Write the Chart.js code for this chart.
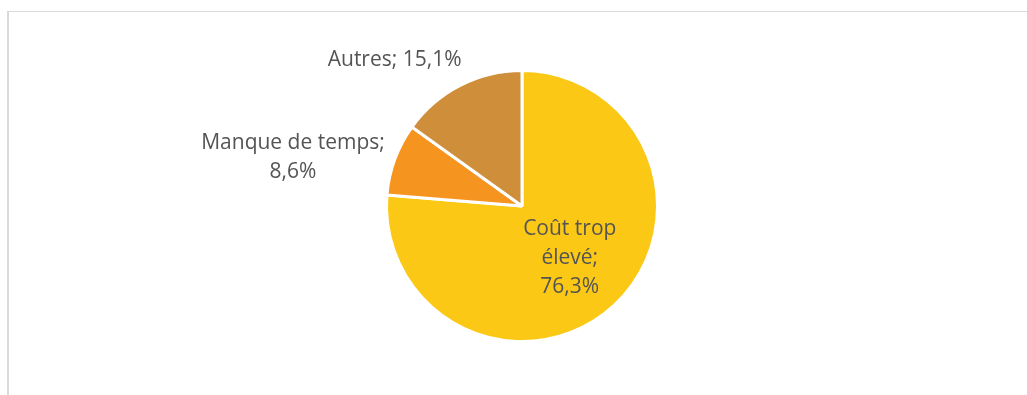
<!DOCTYPE html>
<html>
<head>
<meta charset="utf-8">
<script src="https://cdn.jsdelivr.net/npm/chart.js@4.4.0/dist/chart.umd.min.js"></script>
<style>
  html, body { margin: 0; padding: 0; background: #fff; }
  #wrap { position: relative; width: 1027px; height: 395px; overflow: hidden; }
  #frame {
    position: absolute; left: 7px; top: 11px; width: 1040px; height: 420px;
    border-left: 2px solid #d9d9d9; border-top: 1px solid #d9d9d9;
  }
  #pie { position: absolute; left: 0; top: 0; }
</style>
</head>
<body>
<div id="wrap">
  <div id="frame"></div>
  <canvas id="pie" width="1027" height="395"></canvas>
</div>
<script>
const categories = ['Coût trop élevé', 'Manque de temps', 'Autres'];
const shares = [76.3, 8.6, 15.1];
const sliceColors = ['#fbc815', '#f5941f', '#cf8e3a'];

// where each data label sits, in units of the pie radius
const labelSpots = [
    { inside: true, dist: 0.52, maxWidth: 105 },
    { dx: -1.69, dy: -0.355, maxWidth: 200 },
    { dx: -0.94, dy: -1.08, maxWidth: 230 }
];

const labelFont = '21px "Open Sans"';
const labelColor = '#545454';
const lineHeight = 29;

function fmt(v) {
    return v.toFixed(1).replace('.', ',') + '%';
}

function wrapWords(ctx, text, maxWidth) {
    const words = text.split(' ');
    const lines = [];
    let line = '';
    words.forEach(w => {
        const test = line ? line + ' ' + w : w;
        if (line && ctx.measureText(test).width > maxWidth) {
            lines.push(line);
            line = w;
        } else {
            line = test;
        }
    });
    if (line) lines.push(line);
    return lines;
}

const sliceLabels = {
    id: 'sliceLabels',
    afterDatasetsDraw(chart) {
        const ctx = chart.ctx;
        const arcs = chart.getDatasetMeta(0).data;
        ctx.save();
        ctx.font = labelFont;
        ctx.fillStyle = labelColor;
        ctx.textAlign = 'center';
        ctx.textBaseline = 'middle';
        arcs.forEach((arc, i) => {
            const spot = labelSpots[i];
            const { x, y, startAngle, endAngle, outerRadius } = arc.getProps(['x', 'y', 'startAngle', 'endAngle', 'outerRadius'], true);
            let cx, cy;
            if (spot.inside) {
                const mid = (startAngle + endAngle) / 2;
                cx = x + Math.cos(mid) * outerRadius * spot.dist;
                cy = y + Math.sin(mid) * outerRadius * spot.dist;
            } else {
                cx = x + spot.dx * outerRadius;
                cy = y + spot.dy * outerRadius;
            }
            const text = categories[i] + '; ' + fmt(shares[i]);
            const lines = wrapWords(ctx, text, spot.maxWidth);
            const top = cy - (lines.length - 1) * lineHeight / 2;
            lines.forEach((ln, k) => ctx.fillText(ln, cx, top + k * lineHeight));
        });
        ctx.restore();
    }
};

new Chart(document.getElementById('pie'), {
    type: 'pie',
    data: {
        labels: categories,
        datasets: [{
            data: shares,
            backgroundColor: sliceColors,
            borderColor: '#ffffff',
            borderWidth: 3
        }]
    },
    options: {
        responsive: false,
        animation: false,
        devicePixelRatio: 1,
        layout: { padding: { top: 69, bottom: 52, left: 385, right: 368 } },
        plugins: {
            legend: { display: false },
            tooltip: { enabled: false }
        }
    },
    plugins: [sliceLabels]
});
</script>
</body>
</html>
